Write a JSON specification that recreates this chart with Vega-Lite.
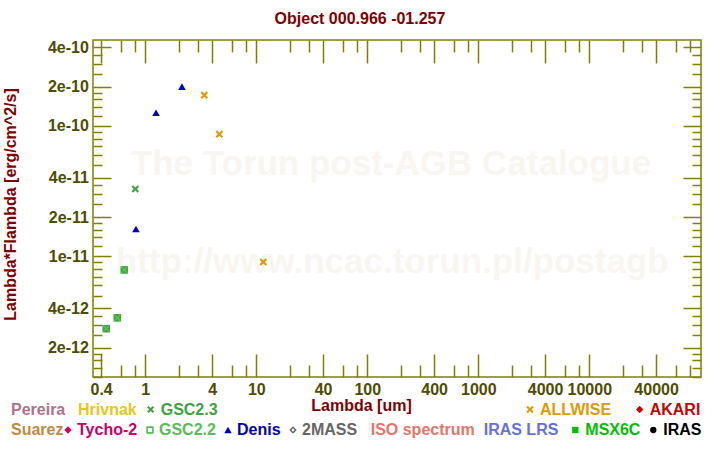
{
  "$schema": "https://vega.github.io/schema/vega-lite/v6.json",
  "width": 608,
  "height": 337,
  "autosize": {"type": "none"},
  "padding": {"left": 93, "top": 40, "right": 19, "bottom": 73},
  "background": "white",
  "title": {"text": "Object 000.966 -01.257", "anchor": "middle", "frame": "group", "dx": -37, "offset": -1, "baseline": "alphabetic", "fontSize": 16, "fontWeight": "bold", "font": "Liberation Sans", "color": "#800000"},
  "config": {
    "font": "Liberation Sans",
    "view": {"stroke": "#808000", "strokeWidth": 1.5},
    "axis": {"domain": false, "grid": false, "tickColor": "#808000", "tickWidth": 1.5, "labelFont": "Liberation Sans", "labelFontSize": 16, "labelFontWeight": "bold", "labelColor": "#4d4d00", "titleFont": "Liberation Sans", "titleFontSize": 16, "titleFontWeight": "bold", "titleColor": "#800000", "labelOverlap": false, "labelFlush": false},
    "legend": {"labelFont": "Liberation Sans", "labelFontSize": 16, "labelFontWeight": "bold", "padding": 0, "labelLimit": 300}
  },
  "data": {"values": [
    {"catalog": "GSC2.2", "lambda": 0.445, "flux": 2.79e-12},
    {"catalog": "GSC2.2", "lambda": 0.56, "flux": 3.38e-12},
    {"catalog": "GSC2.2", "lambda": 0.647, "flux": 7.87e-12},
    {"catalog": "GSC2.3", "lambda": 0.813, "flux": 3.28e-11},
    {"catalog": "Denis", "lambda": 0.824, "flux": 1.62e-11},
    {"catalog": "Denis", "lambda": 1.25, "flux": 1.26e-10},
    {"catalog": "Denis", "lambda": 2.14, "flux": 2.0e-10},
    {"catalog": "ALLWISE", "lambda": 3.4, "flux": 1.72e-10},
    {"catalog": "ALLWISE", "lambda": 4.64, "flux": 8.64e-11},
    {"catalog": "ALLWISE", "lambda": 11.56, "flux": 9.06e-12}
  ]},
  "layer": [
    {
      "data": {"values": [{}]},
      "mark": {"type": "text", "align": "center", "baseline": "alphabetic", "fontSize": 35, "fontWeight": "bold", "font": "Liberation Sans", "color": "#f9f6f2"},
      "encoding": {
        "x": {"datum": 163.5, "type": "quantitative", "scale": {"type": "log", "domain": [0.338, 101500]}, "axis": null},
        "y": {"datum": 4.22e-11, "type": "quantitative", "scale": {"type": "log", "domain": [1.19e-12, 4.55e-10]}, "axis": null},
        "text": {"value": "The Torun post-AGB Catalogue"}
      }
    },
    {
      "data": {"values": [{}]},
      "mark": {"type": "text", "align": "center", "baseline": "alphabetic", "fontSize": 35, "fontWeight": "bold", "font": "Liberation Sans", "color": "#f9f6f2"},
      "encoding": {
        "x": {"datum": 168, "type": "quantitative", "scale": {"type": "log", "domain": [0.338, 101500]}, "axis": null},
        "y": {"datum": 7.5e-12, "type": "quantitative", "scale": {"type": "log", "domain": [1.19e-12, 4.55e-10]}, "axis": null},
        "text": {"value": "http://www.ncac.torun.pl/postagb"}
      }
    },
    {
      "mark": {"type": "point", "filled": true, "opacity": 1, "size": 58},
      "encoding": {
        "x": {"field": "lambda", "type": "quantitative", "scale": {"type": "log", "domain": [0.338, 101500]},
          "axis": {"orient": "bottom", "values": [0.4, 1, 4, 10, 40, 100, 400, 1000, 4000, 10000, 40000], "format": "~g", "tickSize": -23, "labelPadding": 27, "title": "Lambda [um]", "titleX": 268, "titleY": 33.5, "titleBaseline": "alphabetic", "titleAlign": "center"}},
        "y": {"field": "flux", "type": "quantitative", "scale": {"type": "log", "domain": [1.19e-12, 4.55e-10]},
          "axis": {"orient": "left", "values": [2e-12, 4e-12, 1e-11, 2e-11, 4e-11, 1e-10, 2e-10, 4e-10], "format": "~e", "tickSize": -18, "labelPadding": 22.7, "title": "Lambda*Flambda [erg/cm^2/s]", "titleX": -78, "titleY": 164, "titleAngle": 270, "titleBaseline": "alphabetic", "titleAlign": "center"}},
        "color": {"field": "catalog", "type": "nominal", "scale": {"domain": ["GSC2.2", "GSC2.3", "Denis", "ALLWISE"], "range": ["#3da53d", "#44a044", "#0000c0", "#e09a00"]}, "legend": null},
        "shape": {"field": "catalog", "type": "nominal", "scale": {"domain": ["GSC2.2", "GSC2.3", "Denis", "ALLWISE"], "range": ["square", "M-1,-0.6L-0.6,-1L0,-0.4L0.6,-1L1,-0.6L0.4,0L1,0.6L0.6,1L0,0.4L-0.6,1L-1,0.6L-0.4,0Z", "triangle-up", "M-1,-0.6L-0.6,-1L0,-0.4L0.6,-1L1,-0.6L0.4,0L1,0.6L0.6,1L0,0.4L-0.6,1L-1,0.6L-0.4,0Z"]}, "legend": null}
      }
    },
    {
      "transform": [{"filter": "datum.catalog == 'GSC2.2'"}],
      "mark": {"type": "point", "filled": true, "opacity": 1, "size": 44, "color": "#6acb6a", "shape": "M-1,-0.8L-0.8,-1L0,-0.2L0.8,-1L1,-0.8L0.2,0L1,0.8L0.8,1L0,0.2L-0.8,1L-1,0.8L-0.2,0Z"},
      "encoding": {
        "x": {"field": "lambda", "type": "quantitative", "scale": {"type": "log", "domain": [0.338, 101500]},
          "axis": {"orient": "bottom", "values": [0.6, 0.8, 2, 3, 6, 8, 20, 30, 60, 80, 200, 300, 600, 800, 2000, 3000, 6000, 8000, 20000, 30000, 60000, 80000], "tickSize": -12, "labels": false, "title": null}},
        "y": {"field": "flux", "type": "quantitative", "scale": {"type": "log", "domain": [1.19e-12, 4.55e-10]},
          "axis": {"orient": "left", "values": [1.2e-12, 1.4e-12, 1.6e-12, 1.8e-12, 2.5e-12, 3e-12, 3.5e-12, 5e-12, 6e-12, 7e-12, 8e-12, 9e-12, 1.2e-11, 1.4e-11, 1.6e-11, 1.8e-11, 2.5e-11, 3e-11, 3.5e-11, 5e-11, 6e-11, 7e-11, 8e-11, 9e-11, 1.2e-10, 1.4e-10, 1.6e-10, 1.8e-10, 2.5e-10, 3e-10, 3.5e-10], "tickSize": -9, "labels": false, "title": null}}
      }
    },
    {
      "transform": [{"filter": "false"}],
      "mark": {"type": "point", "filled": true, "opacity": 1},
      "encoding": {
        "x": {"field": "lambda", "type": "quantitative", "scale": {"type": "log", "domain": [0.338, 101500]},
          "axis": {"orient": "top", "values": [0.4, 1, 4, 10, 40, 100, 400, 1000, 4000, 10000, 40000], "tickSize": -23, "labels": false, "title": null}},
        "y": {"field": "flux", "type": "quantitative", "scale": {"type": "log", "domain": [1.19e-12, 4.55e-10]},
          "axis": {"orient": "right", "values": [2e-12, 4e-12, 1e-11, 2e-11, 4e-11, 1e-10, 2e-10, 4e-10], "tickSize": -18, "labels": false, "title": null}},
        "color": {"field": "catalog", "type": "nominal", "scale": {"domain": ["Pereira", "Hrivnak"], "range": ["#b3708a", "#e6c619"]},
          "legend": {"orient": "none", "legendX": -82, "legendY": 361.5, "direction": "horizontal", "title": null, "symbolSize": 0, "symbolStrokeWidth": 0, "labelOffset": -16, "columnPadding": 12,
            "labelColor": {"expr": "datum.value == 'Pereira' ? '#b3708a' : '#e6c619'"}}},
        "shape": {"field": "catalog", "type": "nominal", "scale": {"domain": ["Pereira", "Hrivnak"], "range": ["circle", "circle"]},
          "legend": {"orient": "none", "legendX": -82, "legendY": 361.5, "direction": "horizontal", "title": null, "symbolSize": 0, "symbolStrokeWidth": 0, "labelOffset": -16, "columnPadding": 12,
            "labelColor": {"expr": "datum.value == 'Pereira' ? '#b3708a' : '#e6c619'"}}}
      }
    },
    {
      "transform": [{"filter": "false"}],
      "mark": {"type": "point", "filled": true, "opacity": 1},
      "encoding": {
        "x": {"field": "lambda", "type": "quantitative", "scale": {"type": "log", "domain": [0.338, 101500]},
          "axis": {"orient": "top", "values": [0.6, 0.8, 2, 3, 6, 8, 20, 30, 60, 80, 200, 300, 600, 800, 2000, 3000, 6000, 8000, 20000, 30000, 60000, 80000], "tickSize": -12, "labels": false, "title": null}},
        "y": {"field": "flux", "type": "quantitative", "scale": {"type": "log", "domain": [1.19e-12, 4.55e-10]},
          "axis": {"orient": "right", "values": [1.2e-12, 1.4e-12, 1.6e-12, 1.8e-12, 2.5e-12, 3e-12, 3.5e-12, 5e-12, 6e-12, 7e-12, 8e-12, 9e-12, 1.2e-11, 1.4e-11, 1.6e-11, 1.8e-11, 2.5e-11, 3e-11, 3.5e-11, 5e-11, 6e-11, 7e-11, 8e-11, 9e-11, 1.2e-10, 1.4e-10, 1.6e-10, 1.8e-10, 2.5e-10, 3e-10, 3.5e-10], "tickSize": -9, "labels": false, "title": null}},
        "color": {"field": "catalog", "type": "nominal", "scale": {"domain": ["GSC2.3"], "range": ["#44a044"]},
          "legend": {"orient": "none", "legendX": 49.7, "legendY": 361.5, "direction": "horizontal", "title": null, "symbolSize": 50, "labelOffset": 2, "labelColor": "#44a044"}},
        "shape": {"field": "catalog", "type": "nominal", "scale": {"domain": ["GSC2.3"], "range": ["M-1,-0.6L-0.6,-1L0,-0.4L0.6,-1L1,-0.6L0.4,0L1,0.6L0.6,1L0,0.4L-0.6,1L-1,0.6L-0.4,0Z"]},
          "legend": {"orient": "none", "legendX": 49.7, "legendY": 361.5, "direction": "horizontal", "title": null, "symbolSize": 50, "labelOffset": 2, "labelColor": "#44a044"}}
      }
    },
    {
      "transform": [{"filter": "false"}],
      "mark": {"type": "point", "filled": true, "opacity": 1},
      "encoding": {
        "x": {"field": "lambda", "type": "quantitative", "scale": {"type": "log", "domain": [0.338, 101500]}, "axis": null},
        "y": {"field": "flux", "type": "quantitative", "scale": {"type": "log", "domain": [1.19e-12, 4.55e-10]}, "axis": null},
        "color": {"field": "catalog", "type": "nominal", "scale": {"domain": ["ALLWISE", "AKARI"], "range": ["#e09a00", "#cc0000"]},
          "legend": {"orient": "none", "legendX": 429, "legendY": 361.5, "direction": "horizontal", "title": null, "symbolSize": 55, "labelOffset": 2, "columnPadding": 19.7,
            "labelColor": {"expr": "datum.value == 'ALLWISE' ? '#e09a00' : '#cc0000'"}}},
        "shape": {"field": "catalog", "type": "nominal", "scale": {"domain": ["ALLWISE", "AKARI"], "range": ["M-1,-0.6L-0.6,-1L0,-0.4L0.6,-1L1,-0.6L0.4,0L1,0.6L0.6,1L0,0.4L-0.6,1L-1,0.6L-0.4,0Z", "diamond"]},
          "legend": {"orient": "none", "legendX": 429, "legendY": 361.5, "direction": "horizontal", "title": null, "symbolSize": 55, "labelOffset": 2, "columnPadding": 19.7,
            "labelColor": {"expr": "datum.value == 'ALLWISE' ? '#e09a00' : '#cc0000'"}}}
      }
    },
    {
      "transform": [{"filter": "false"}],
      "mark": {"type": "point", "filled": true, "opacity": 1},
      "encoding": {
        "x": {"field": "lambda", "type": "quantitative", "scale": {"type": "log", "domain": [0.338, 101500]}, "axis": null},
        "y": {"field": "flux", "type": "quantitative", "scale": {"type": "log", "domain": [1.19e-12, 4.55e-10]}, "axis": null},
        "color": {"field": "catalog", "type": "nominal", "scale": {"domain": ["Suarez"], "range": ["#c08a40"]},
          "legend": {"orient": "none", "legendX": -82, "legendY": 382, "direction": "horizontal", "title": null, "symbolSize": 0, "symbolStrokeWidth": 0, "labelOffset": -16, "labelColor": "#c08a40"}},
        "shape": {"field": "catalog", "type": "nominal", "scale": {"domain": ["Suarez"], "range": ["circle"]},
          "legend": {"orient": "none", "legendX": -82, "legendY": 382, "direction": "horizontal", "title": null, "symbolSize": 0, "symbolStrokeWidth": 0, "labelOffset": -16, "labelColor": "#c08a40"}}
      }
    },
    {
      "transform": [{"filter": "false"}],
      "mark": {"type": "point", "filled": true, "opacity": 1},
      "encoding": {
        "x": {"field": "lambda", "type": "quantitative", "scale": {"type": "log", "domain": [0.338, 101500]}, "axis": null},
        "y": {"field": "flux", "type": "quantitative", "scale": {"type": "log", "domain": [1.19e-12, 4.55e-10]}, "axis": null},
        "color": {"field": "catalog", "type": "nominal", "scale": {"domain": ["Tycho-2", "GSC2.2", "Denis", "2MASS"], "range": ["#cc0066", "#5cbb5c", "#0000c0", "#666666"]},
          "legend": {"orient": "none", "legendX": -33, "legendY": 382, "direction": "horizontal", "title": null, "symbolSize": 55, "labelOffset": 1, "columnPadding": 4,
            "labelColor": {"expr": "datum.value == 'Tycho-2' ? '#cc0066' : datum.value == 'GSC2.2' ? '#5cbb5c' : datum.value == 'Denis' ? '#0000c0' : '#666666'"}}},
        "shape": {"field": "catalog", "type": "nominal", "scale": {"domain": ["Tycho-2", "GSC2.2", "Denis", "2MASS"], "range": ["diamond", "M-1,-1H1V1H-1Z M-0.55,-0.55V0.55H0.55V-0.55Z", "triangle-up", "M0,-1L1,0L0,1L-1,0Z M0,-0.45L-0.45,0L0,0.45L0.45,0Z"]},
          "legend": {"orient": "none", "legendX": -33, "legendY": 382, "direction": "horizontal", "title": null, "symbolSize": 55, "labelOffset": 1, "columnPadding": 4,
            "labelColor": {"expr": "datum.value == 'Tycho-2' ? '#cc0066' : datum.value == 'GSC2.2' ? '#5cbb5c' : datum.value == 'Denis' ? '#0000c0' : '#666666'"}}}
      }
    },
    {
      "transform": [{"filter": "false"}],
      "mark": {"type": "point", "filled": true, "opacity": 1},
      "encoding": {
        "x": {"field": "lambda", "type": "quantitative", "scale": {"type": "log", "domain": [0.338, 101500]}, "axis": null},
        "y": {"field": "flux", "type": "quantitative", "scale": {"type": "log", "domain": [1.19e-12, 4.55e-10]}, "axis": null},
        "color": {"field": "catalog", "type": "nominal", "scale": {"domain": ["ISO spectrum", "IRAS LRS"], "range": ["#e8736a", "#6670d8"]},
          "legend": {"orient": "none", "legendX": 277.7, "legendY": 382, "direction": "horizontal", "title": null, "symbolSize": 0, "symbolStrokeWidth": 0, "labelOffset": -16, "columnPadding": 8,
            "labelColor": {"expr": "datum.value == 'ISO spectrum' ? '#e8736a' : '#6670d8'"}}},
        "shape": {"field": "catalog", "type": "nominal", "scale": {"domain": ["ISO spectrum", "IRAS LRS"], "range": ["circle", "circle"]},
          "legend": {"orient": "none", "legendX": 277.7, "legendY": 382, "direction": "horizontal", "title": null, "symbolSize": 0, "symbolStrokeWidth": 0, "labelOffset": -16, "columnPadding": 8,
            "labelColor": {"expr": "datum.value == 'ISO spectrum' ? '#e8736a' : '#6670d8'"}}}
      }
    },
    {
      "transform": [{"filter": "false"}],
      "mark": {"type": "point", "filled": true, "opacity": 1},
      "encoding": {
        "x": {"field": "lambda", "type": "quantitative", "scale": {"type": "log", "domain": [0.338, 101500]}, "axis": null},
        "y": {"field": "flux", "type": "quantitative", "scale": {"type": "log", "domain": [1.19e-12, 4.55e-10]}, "axis": null},
        "color": {"field": "catalog", "type": "nominal", "scale": {"domain": ["MSX6C", "IRAS"], "range": ["#00c000", "#000000"]},
          "legend": {"orient": "none", "legendX": 474.3, "legendY": 382, "direction": "horizontal", "title": null, "symbolSize": 40, "labelOffset": 2, "columnPadding": 4,
            "labelColor": {"expr": "datum.value == 'MSX6C' ? '#00c000' : '#000000'"}}},
        "shape": {"field": "catalog", "type": "nominal", "scale": {"domain": ["MSX6C", "IRAS"], "range": ["square", "circle"]},
          "legend": {"orient": "none", "legendX": 474.3, "legendY": 382, "direction": "horizontal", "title": null, "symbolSize": 40, "labelOffset": 2, "columnPadding": 4,
            "labelColor": {"expr": "datum.value == 'MSX6C' ? '#00c000' : '#000000'"}}}
      }
    }
  ],
  "resolve": {"scale": {"color": "independent", "shape": "independent"}, "axis": {"x": "independent", "y": "independent"}}
}
